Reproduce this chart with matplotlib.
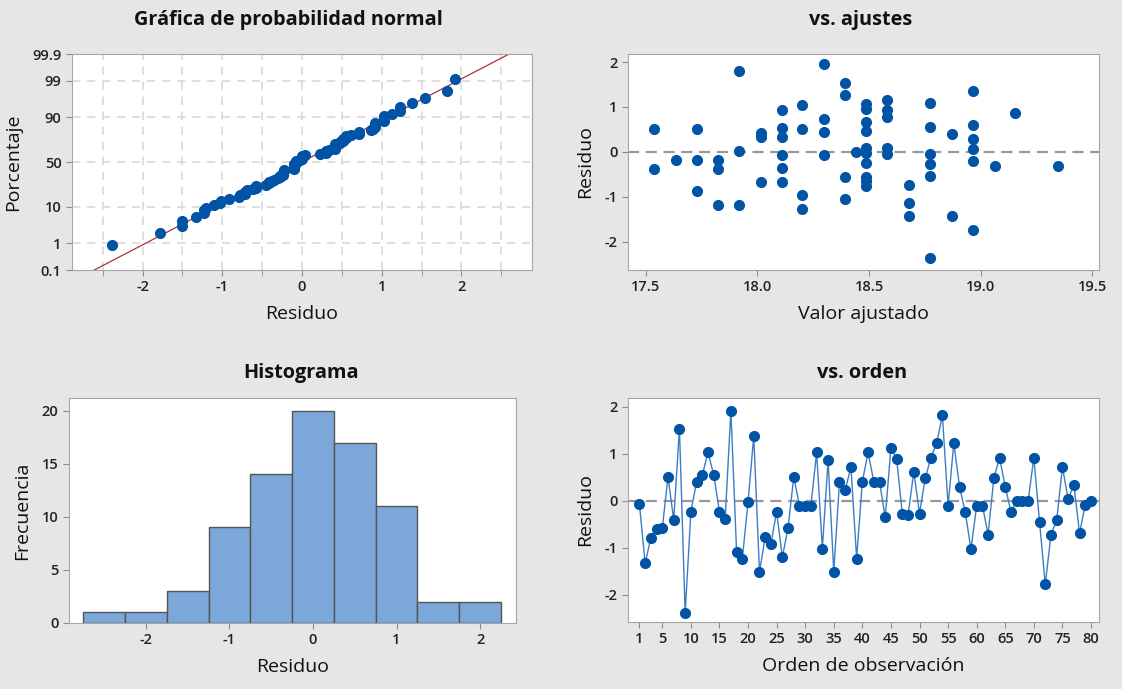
import numpy as np
import matplotlib
matplotlib.use("Agg")
import matplotlib.pyplot as plt
from statistics import NormalDist

plt.rcParams['font.family'] = ['Open Sans', 'DejaVu Sans']
plt.rcParams['font.weight'] = 'semibold'
plt.rcParams['axes.unicode_minus'] = False

# residuos en orden de observacion (1..80)
residuos = [-0.07, -1.33, -0.79, -0.61, -0.58, 0.51, -0.41, 1.54, -2.39, -0.24,
            0.41, 0.55, 1.03, 0.55, -0.23, -0.38, 1.92, -1.10, -1.23, -0.03,
            1.38, -1.51, -0.78, -0.92, -0.23, -1.20, -0.58, 0.51, -0.10, -0.10,
            -0.10, 1.03, -1.02, 0.86, -1.51, 0.41, 0.23, 0.72, -1.23, 0.41,
            1.03, 0.41, 0.41, -0.35, 1.13, 0.89, -0.28, -0.30, 0.62, -0.27,
            0.48, 0.92, 1.23, 1.82, -0.10, 1.23, 0.30, -0.24, -1.03, -0.10,
            -0.10, -0.72, 0.48, 0.92, 0.30, -0.24, 0.00, 0.00, 0.00, 0.92,
            -0.45, -1.78, -0.72, -0.41, 0.72, 0.04, 0.34, -0.69, -0.08, 0.00]

# valores ajustados vs residuo (puntos visibles)
ajustados = [17.535, 17.535, 17.635, 17.728, 17.728, 17.728, 17.825, 17.825, 17.825,
             17.918, 17.918, 17.918, 18.015, 18.015, 18.015,
             18.109, 18.109, 18.109, 18.109, 18.109, 18.109,
             18.2, 18.2, 18.2, 18.2, 18.3, 18.3, 18.3, 18.3,
             18.392, 18.392, 18.392, 18.392, 18.44,
             18.488, 18.488, 18.488, 18.488, 18.488, 18.488, 18.488, 18.488, 18.488, 18.488,
             18.582, 18.582, 18.582, 18.582, 18.582, 18.68, 18.68, 18.68,
             18.772, 18.772, 18.772, 18.772, 18.772, 18.772, 18.87, 18.87,
             18.965, 18.965, 18.965, 18.965, 18.965, 18.965, 19.063, 19.154, 19.346]
res_ajuste = [0.52, -0.39, -0.18, 0.52, -0.18, -0.88, -0.18, -0.39, -1.19,
              1.81, 0.03, -1.19, 0.42, 0.33, -0.67,
              0.94, 0.53, 0.33, -0.08, -0.36, -0.67,
              1.05, 0.52, -0.95, -1.27, 1.96, 0.73, 0.45, -0.08,
              1.53, 1.26, -0.56, -1.05, 0.0,
              1.07, 0.96, 0.66, 0.46, 0.08, -0.02, -0.24, -0.56, -0.65, -0.75,
              1.16, 0.94, 0.77, 0.08, -0.04, -0.74, -1.13, -1.43,
              1.09, 0.55, -0.04, -0.26, -0.53, -2.36, 0.39, -1.43,
              1.36, 0.59, 0.28, 0.07, -0.21, -1.73, -0.32, 0.87, -0.32]

bordes_hist = [-2.75, -2.25, -1.75, -1.25, -0.75, -0.25, 0.25, 0.75, 1.25, 1.75, 2.25]
pct_ticks = [0.1, 1, 10, 50, 90, 99, 99.9]
orden_ticks = [1, 5, 10, 15, 20, 25, 30, 35, 40, 45, 50, 55, 60, 65, 70, 75, 80]

azul = '#0053a5'
bg = '#e6e6e6'
W, H = 1122, 689

fig = plt.figure(figsize=(W / 100, H / 100), dpi=100, facecolor=bg)

def box(l, t, r, b):
    return [l / W, 1 - b / H, (r - l) / W, (b - t) / H]

def estilo(ax):
    ax.set_facecolor('white')
    for s in ax.spines.values():
        s.set_color('#a6a6a6')
    ax.tick_params(colors='#8c8c8c', labelcolor='#222222', labelsize=10.5, length=4)

def etiquetas(ax, xl, yl):
    ax.set_xlabel(xl, fontsize=14, labelpad=7.5, fontweight='normal', color='#111111')
    ax.set_ylabel(yl, fontsize=14, labelpad=7.5, fontweight='normal', color='#111111')

nd = NormalDist()
r = np.array(residuos)
n = len(r)

# grafica de probabilidad normal
ax1 = fig.add_axes(box(72, 54, 532, 270))
rs = np.sort(r)
p = (np.arange(1, n + 1) - 0.3) / (n + 0.4)
z = np.array([nd.inv_cdf(v) for v in p])
zlim = nd.inv_cdf(0.999)
for gx in np.arange(-2.5, 2.51, 0.5):
    ax1.axvline(gx, color='#d9d9d9', ls=(0, (5, 4)), lw=1.2, zorder=0)
for pc in [1, 10, 50, 90, 99]:
    ax1.axhline(nd.inv_cdf(pc / 100), color='#d9d9d9', ls=(0, (5, 4)), lw=1.2, zorder=0)
mu, sd = r.mean(), r.std(ddof=1)
zz = np.array([-zlim, zlim])
ax1.plot(mu + sd * zz, zz, color='#b03030', lw=0.9, zorder=2)
ax1.plot(rs, z, 'o', color=azul, ms=7, zorder=3)
ax1.set_xlim(-2.886, 2.886)
ax1.set_ylim(-zlim, zlim)
ax1.set_xticks([-2, -1, 0, 1, 2])
ax1.set_xticks(np.arange(-2.5, 2.6, 0.5), minor=True)
ax1.set_yticks([nd.inv_cdf(v / 100) for v in pct_ticks])
ax1.set_yticklabels([str(v) for v in pct_ticks])
ax1.tick_params(which='minor', length=4, colors='#8c8c8c')
estilo(ax1)
etiquetas(ax1, 'Residuo', 'Porcentaje')

# vs. ajustes
ax2 = fig.add_axes(box(628, 54, 1099, 270))
ax2.axhline(0, color='#999999', ls=(0, (5, 3)), lw=1.6, zorder=1)
ax2.plot(ajustados, res_ajuste, 'o', color=azul, ms=7, zorder=3)
ax2.set_xlim(17.42, 19.53)
ax2.set_ylim(-2.63, 2.18)
ax2.set_xticks([17.5, 18.0, 18.5, 19.0, 19.5])
ax2.set_xticklabels(['17.5', '18.0', '18.5', '19.0', '19.5'])
ax2.set_yticks([-2, -1, 0, 1, 2])
estilo(ax2)
etiquetas(ax2, 'Valor ajustado', 'Residuo')

# histograma
ax3 = fig.add_axes(box(69, 398, 516, 623))
ax3.hist(r, bins=bordes_hist, color='#7ba7d9', edgecolor='#555555', lw=1, zorder=2)
ax3.set_xlim(-2.92, 2.43)
ax3.set_ylim(0, 21.2)
ax3.set_xticks([-2, -1, 0, 1, 2])
ax3.set_yticks([0, 5, 10, 15, 20])
estilo(ax3)
etiquetas(ax3, 'Residuo', 'Frecuencia')

# vs. orden
ax4 = fig.add_axes(box(628, 398, 1099, 622))
obs = np.arange(1, n + 1)
ax4.axhline(0, color='#999999', ls=(0, (5, 3)), lw=1.6, zorder=1)
ax4.plot(obs, r, '-', color='#3d7cc6', lw=1, zorder=2)
ax4.plot(obs, r, 'o', color=azul, ms=7, zorder=3)
ax4.set_xlim(-1.0, 81.4)
ax4.set_ylim(-2.58, 2.19)
ax4.set_xticks(orden_ticks)
ax4.set_yticks([-2, -1, 0, 1, 2])
estilo(ax4)
etiquetas(ax4, 'Orden de observación', 'Residuo')

# titulos
for x, y, t in [(288, 20, 'Gráfica de probabilidad normal'), (861, 20, 'vs. ajustes'),
                (301, 373, 'Histograma'), (862, 373, 'vs. orden')]:
    fig.text(x / W, 1 - y / H, t, ha='center', va='center', fontsize=14.3, fontweight='bold',
             color='#111111')

fig.savefig('out.png', dpi=100, facecolor=bg)
